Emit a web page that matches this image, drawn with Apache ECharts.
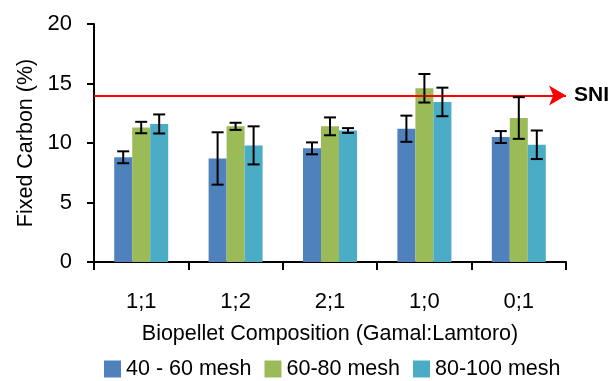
<!DOCTYPE html>
<html><head><meta charset="utf-8">
<script src="https://cdn.jsdelivr.net/npm/echarts@6/dist/echarts.min.js"></script>
<style>html,body{margin:0;padding:0;background:#fff}#c{width:611px;height:381px}</style>
</head><body><div id="c"></div>
<script>
var categories = ['1;1', '1;2', '2;1', '1;0', '0;1'];
var seriesNames = ['40 - 60 mesh', '60-80 mesh', '80-100 mesh'];
var mesh40_60 = [8.8, 8.7, 9.55, 11.2, 10.5];
var mesh60_80 = [11.3, 11.4, 11.4, 14.6, 12.1];
var mesh80_100 = [11.6, 9.8, 11.05, 13.45, 9.85];
var err40_60 = [0.5, 2.2, 0.5, 1.1, 0.5];
var err60_80 = [0.48, 0.3, 0.75, 1.2, 1.75];
var err80_100 = [0.8, 1.6, 0.2, 1.2, 1.2];
var sniValue = 14;
var yTicks = [0, 5, 10, 15, 20];
var colors = ['#4F81BD', '#9BBB59', '#4BACC6'];

var FONT = "'Liberation Sans', Arial, sans-serif";
var chart = echarts.init(document.getElementById('c'));
var values = [mesh40_60, mesh60_80, mesh80_100];
var errs = [err40_60, err60_80, err80_100];
var BAR_W = 18;

var series = [];
values.forEach(function (v, i) {
  series.push({
    name: seriesNames[i], type: 'bar', data: v, barWidth: BAR_W, barGap: '0%',
    itemStyle: { color: colors[i] }, z: 2,
    markLine: i === 0 ? {
      silent: true, symbol: ['none', 'arrow'], symbolSize: [15, 17],
      lineStyle: { color: '#FF0000', width: 2, type: 'solid' },
      label: { show: true, position: 'end', formatter: 'SNI', color: '#000', fontFamily: FONT, fontWeight: 'bold', fontSize: 21, distance: 8 },
      data: [{ yAxis: sniValue }]
    } : undefined
  });
});
values.forEach(function (v, i) {
  series.push({
    type: 'custom', name: seriesNames[i] + ' err', z: 5,
    data: v.map(function (val, k) { return [k, val - errs[i][k], val + errs[i][k]]; }),
    renderItem: function (params, api) {
      var lo = api.coord([api.value(0), api.value(1)]);
      var hi = api.coord([api.value(0), api.value(2)]);
      var x = lo[0] + (i - 1) * BAR_W;
      var hw = 6;
      var st = { stroke: '#000', lineWidth: 2 };
      return { type: 'group', children: [
        { type: 'line', shape: { x1: x, y1: lo[1], x2: x, y2: hi[1] }, style: st },
        { type: 'line', shape: { x1: x - hw, y1: lo[1], x2: x + hw, y2: lo[1] }, style: st },
        { type: 'line', shape: { x1: x - hw, y1: hi[1], x2: x + hw, y2: hi[1] }, style: st }
      ]};
    },
    encode: { x: 0, y: [1, 2] }
  });
});

chart.setOption({
  animation: false,
  textStyle: { fontFamily: FONT },
  grid: { left: 94, right: 45, top: 24, bottom: 119, containLabel: false },
  legend: {
    data: seriesNames, top: 353, left: 99, itemWidth: 17, itemHeight: 17, itemGap: 13,
    icon: 'rect', textStyle: { fontFamily: FONT, fontSize: 21.5, color: '#000' }
  },
  xAxis: {
    type: 'category', data: categories,
    name: 'Biopellet Composition (Gamal:Lamtoro)', nameLocation: 'middle', nameGap: 61,
    nameTextStyle: { fontFamily: FONT, fontSize: 21.5, color: '#000' },
    axisLine: { lineStyle: { color: '#000', width: 2 } },
    axisTick: { show: true, length: 8, lineStyle: { color: '#000', width: 2 } },
    axisLabel: { color: '#000', fontSize: 22, fontFamily: FONT, margin: 29 }
  },
  yAxis: {
    type: 'value', min: 0, max: 20, interval: 5,
    name: 'Fixed Carbon (%)', nameLocation: 'middle', nameGap: 57,
    nameTextStyle: { fontFamily: FONT, fontSize: 21.5, color: '#000' },
    axisLine: { show: true, lineStyle: { color: '#000', width: 2 } },
    axisTick: { show: true, length: 7, lineStyle: { color: '#000', width: 2 } },
    splitLine: { show: false },
    axisLabel: { color: '#000', fontSize: 22, fontFamily: FONT, margin: 22,
      formatter: function (v) { return yTicks.indexOf(v) >= 0 ? String(v) : ''; } }
  },
  series: series
});
</script></body></html>
